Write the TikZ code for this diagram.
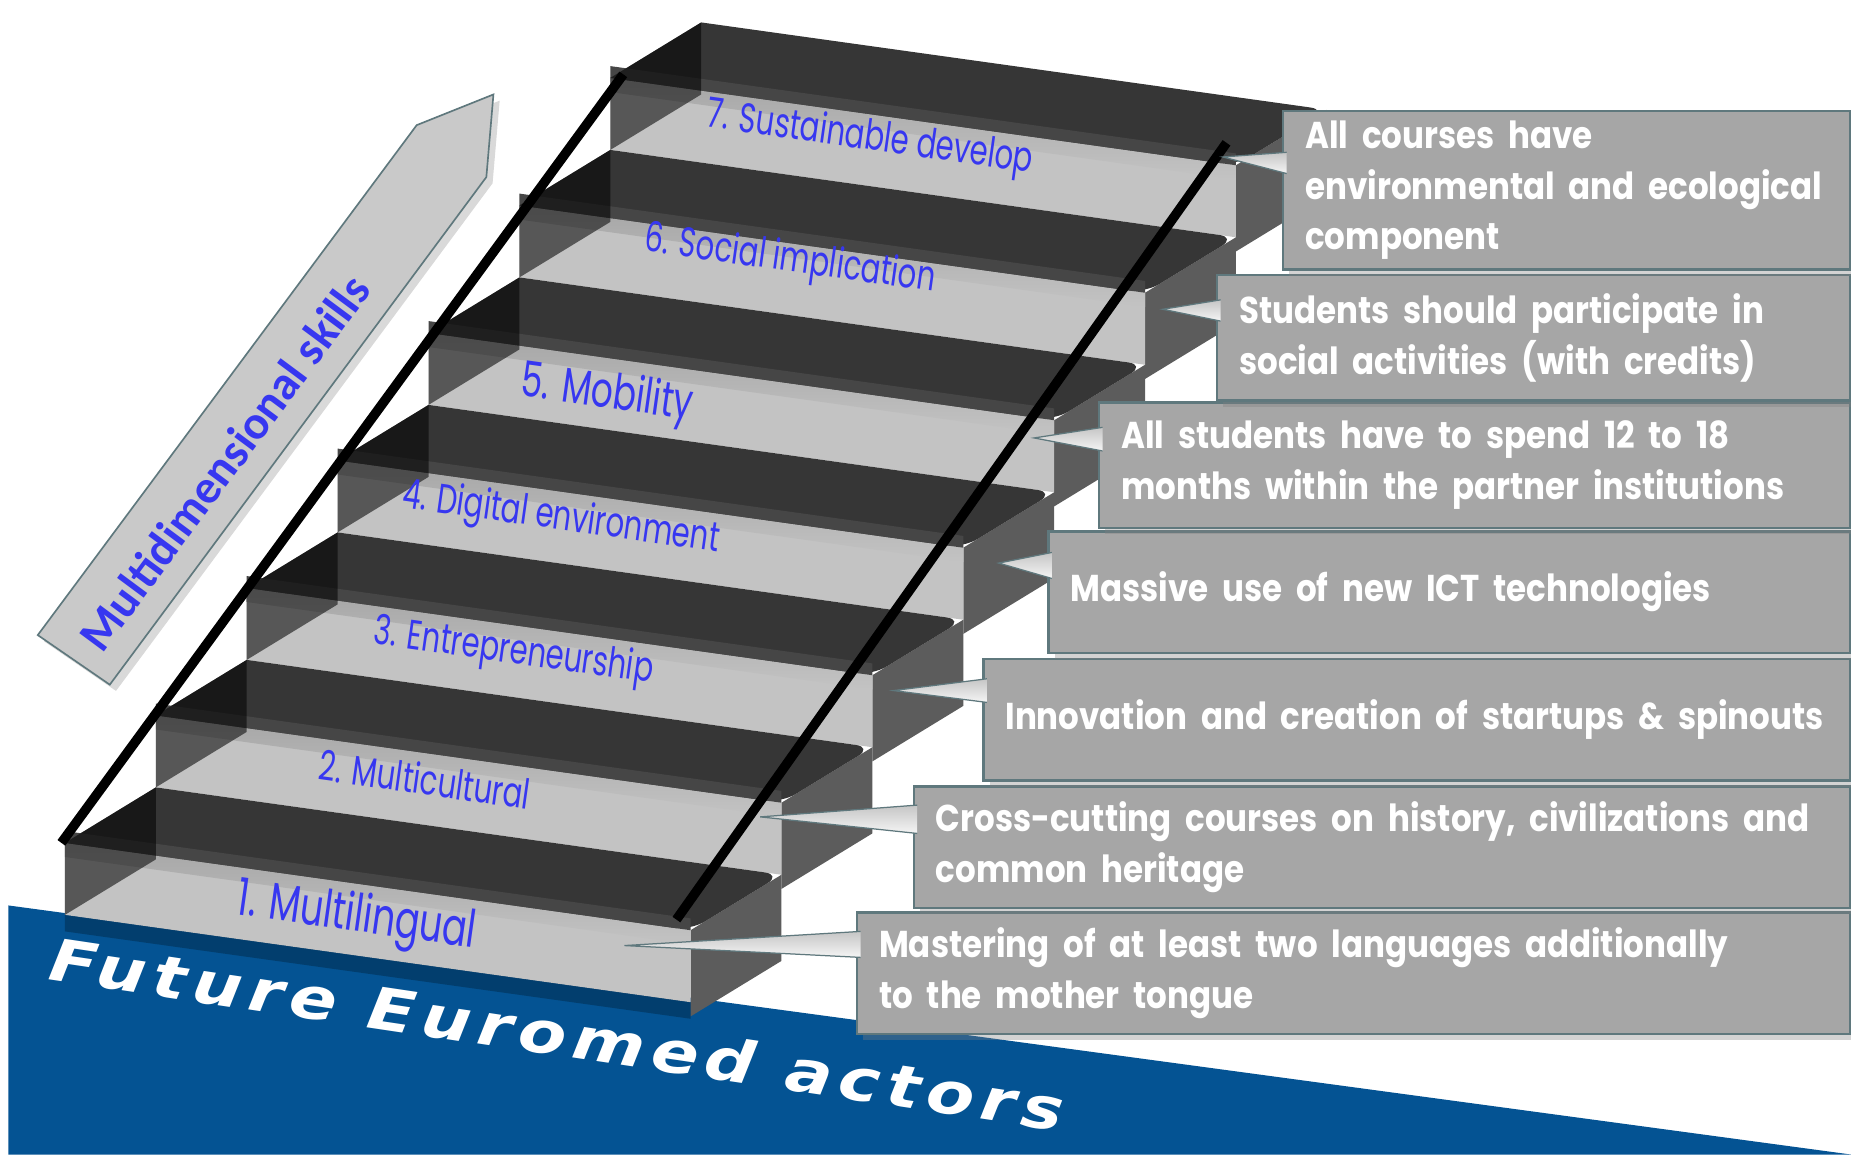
\documentclass[tikz,border=0pt]{standalone}
\usepackage{fontspec}
\usepackage{tikz}
\usetikzlibrary{shadows,calc}
\newfontfamily\stepfont{Poppins}[FakeStretch=0.7]
\newfontfamily\boxfont{Poppins}[FakeStretch=0.87,WordSpace=2]
\newfontfamily\skillfont{Carlito}
\newfontfamily\basefont{DejaVu Sans}[FakeStretch=1.2,LetterSpace=12]
\definecolor{euroblue}{RGB}{4,83,147}
\definecolor{labelblue}{RGB}{55,55,240}
\definecolor{treadgray}{RGB}{54,54,54}
\definecolor{risergray}{RGB}{195,195,195}
\definecolor{sidegray}{RGB}{92,92,92}
\definecolor{boxgray}{RGB}{166,166,166}
\definecolor{boxline}{RGB}{95,120,125}

\begin{document}
\begin{tikzpicture}[x=0.01cm,y=-0.01cm,
	box/.style={draw=boxline,line width=0.6pt,fill=boxgray,anchor=north west,inner sep=0pt,
		drop shadow={opacity=0.35,shadow xshift=1.5pt,shadow yshift=-1.5pt}},
	box text/.style={anchor=west,align=left,text=white,inner sep=0pt,
		font=\boxfont\bfseries\fontsize{9}{12.2}\selectfont},
	step label/.style={text=labelblue,rotate=-8,inner sep=0pt,font=\stepfont\fontsize{10}{12}\selectfont},
	tail/.style={top color=gray!45,bottom color=gray!8,draw=boxline,line width=0.3pt},
	skill arrow/.style={fill=gray!42,draw=boxline,line width=0.4pt,
		drop shadow={opacity=0.3,shadow xshift=1.5pt,shadow yshift=-1.5pt}},
	rail/.style={line width=2.3pt}]
	\useasboundingbox (0,0) rectangle (1568,979);

	\fill[euroblue] (7,767) -- (1568,978) -- (7,978) -- cycle;
	\node[text=white,rotate=-8.5,font=\basefont\bfseries\itshape\fontsize{14}{16}\selectfont] (actors) at (472,876) {Future Euromed actors};

	\filldraw[skill arrow] (32,538) -- (353,106) -- (418,80) -- (412,150) -- (93,580) -- cycle;
	\node[text=labelblue,rotate=53.4,font=\skillfont\bfseries\fontsize{11.4}{13}\selectfont] (skills) at (190,392) {Multidimensional skills};

	\foreach \k in {6,5,...,0}{
		\pgfmathsetmacro\px{55+77*\k}
		\pgfmathsetmacro\py{775-108*\k}
		\coordinate (A) at (\px,\py);
		\coordinate (B) at ({\px+530},{\py+74});
		\coordinate (C) at ({\px+530},{\py+13});
		\coordinate (D) at (\px,{\py-61});
		\coordinate (E) at ({\px+77},{\py-108});
		\coordinate (F) at ({\px+607},{\py-34});
		\fill[sidegray] (C) -- (F) -- ({\px+607},{\py+39}) -- ({\px+530},{\py+86}) -- cycle;
		\fill[risergray] (A) -- (B) -- (C) -- (D) -- cycle;
		\shade[top color=gray!70,bottom color=risergray] (D) -- (C) -- ({\px+530},{\py+25}) -- (\px,{\py-49}) -- cycle;
		\fill[treadgray] (E) -- (D) [rounded corners=4pt] -- (C) -- (F) [sharp corners] -- cycle;
		\fill[gray!55!black] (D) -- ([yshift=0.1cm]D) -- ([yshift=0.1cm]C) -- (C) -- cycle;
		\fill[black,opacity=0.55] (A) -- ({\px+77},{\py-47}) -- (E) -- (D) -- cycle;
	}
	\fill[black,opacity=0.25] (55,775) -- (585,849) -- (585,863) -- (55,789) -- cycle;

	\coordinate (railA1) at (52,714);
	\coordinate (railA2) at (528,63);
	\coordinate (railB1) at (573,779);
	\coordinate (railB2) at (1039,121);
	\draw[rail] (railA1) -- (railA2);
	\draw[rail] (railB1) -- (railB2);

	\node[step label,font=\stepfont\fontsize{12.5}{14}\selectfont] (lab1) at (302,778) {1. Multilingual};
	\node[step label] (lab2) at (360,660) {2. Multicultural};
	\node[step label] (lab3) at (435,553) {3. Entrepreneurship};
	\node[step label] (lab4) at (475,440) {4. Digital environment};
	\node[step label,font=\stepfont\fontsize{11.8}{14}\selectfont] (lab5) at (514,335) {5. Mobility};
	\node[step label] (lab6) at (669,221) {6. Social implication};
	\node[step label] (lab7) at (737,118) {7. Sustainable develop};

	\foreach \n/\bx/\by/\bw/\bh in {1/725/772/8.41/1.03,2/773/665/7.93/1.03,3/832/557/7.34/1.03,
		4/887/449/6.79/1.03,5/930/340/6.36/1.06,6/1030/232/5.36/1.06,7/1086/93/4.80/1.34}
		\node[box,minimum width=\bw cm,minimum height=\bh cm] (box\n) at (\bx,\by) {};

	\foreach \n/\tx/\ty/\ta/\tb in {1/529/801/0.17/0.39,2/644/692/0.17/0.41,3/757/585/0.18/0.38,
		4/846/477/0.19/0.41,5/876/371/0.22/0.42,6/985/262/0.22/0.40,7/1036/133/0.36/0.54}{
		\coordinate (tip\n) at (\tx,\ty);
		\shade[tail] ([shift={(0.04cm,-\ta cm)}]box\n.north west) -- (tip\n) -- ([shift={(0.04cm,-\tb cm)}]box\n.north west);
	}

	\node[box text] (txt1) at ([xshift=0.19cm]box1.west) {Mastering of at least two languages additionally\\to the mother tongue};
	\node[box text] (txt2) at ([xshift=0.19cm]box2.west) {Cross-cutting courses on history, civilizations and\\common heritage};
	\node[box text] (txt3) at ([xshift=0.19cm]box3.west) {Innovation and creation of startups \& spinouts};
	\node[box text] (txt4) at ([xshift=0.19cm]box4.west) {Massive use of new ICT technologies};
	\node[box text] (txt5) at ([xshift=0.19cm]box5.west) {All students have to spend 12 to 18\\months within the partner institutions};
	\node[box text] (txt6) at ([xshift=0.19cm]box6.west) {Students should participate in\\social activities (with credits)};
	\node[box text] (txt7) at ([xshift=0.19cm]box7.west) {All courses have\\environmental and ecological\\component};
\end{tikzpicture}
\end{document}
